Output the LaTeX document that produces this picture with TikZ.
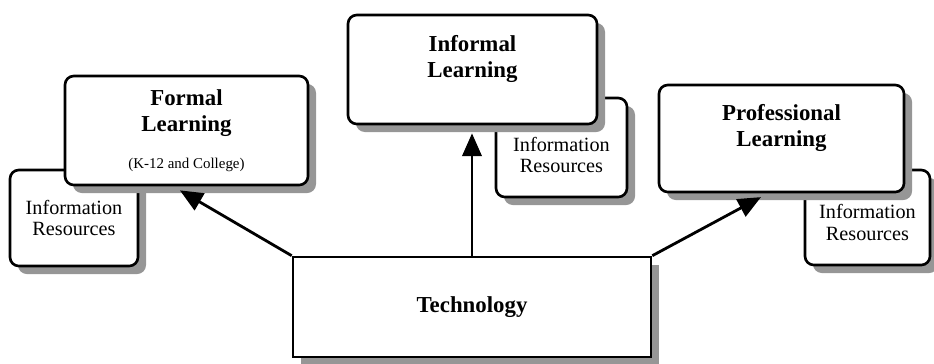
\documentclass[tikz,border=0pt]{standalone}
\usepackage{fontspec}
\setmainfont{Liberation Serif}
\usetikzlibrary{arrows.meta,shadows}
\definecolor{shadowgray}{RGB}{150,150,150}
\begin{document}
\begin{tikzpicture}[
    learnbox/.style={draw,fill=white,line width=1.5pt,rounded corners=5pt,
      minimum width=4.9cm,minimum height=2.16cm,align=center,
      font=\fontsize{13}{15}\selectfont\bfseries,
      drop shadow={shadow xshift=0.16cm,shadow yshift=-0.16cm,fill=shadowgray,opacity=1}},
    infobox/.style={learnbox,minimum width=2.56cm,minimum height=1.92cm},
    infotext/.style={align=center,font=\fontsize{11.5}{12}\selectfont},
    techbox/.style={learnbox,sharp corners,minimum width=7.16cm,minimum height=2cm},
    link/.style={line width=1.6pt,-{Triangle[length=13pt,width=11pt]},shorten >=0.16cm}]
    \useasboundingbox (0,0) rectangle (18.68,-7.26);
    % resources behind the learning boxes
    \node[infobox] (res1) at (1.48,-4.36) {};
    \node[infotext] (res1text) at (res1) {Information\\Resources};
    \node[infobox,minimum width=2.62cm,minimum height=1.98cm] (res2) at (11.23,-2.95) {};
    \node[infotext] (res2text) at ([yshift=-0.15cm]res2) {Information\\Resources};
    \node[infobox,minimum width=2.5cm,minimum height=1.9cm] (res3) at (17.35,-4.35) {};
    \node[infotext] (res3text) at ([yshift=-0.1cm]res3) {Information\\Resources};
    % learning boxes
    \node[learnbox,minimum width=4.86cm,minimum height=2.18cm] (formal) at (3.73,-2.61)
      {Formal\\Learning\\[6pt]{\fontsize{8.5}{10}\selectfont\mdseries (K-12 and College)}};
    \node[learnbox,minimum width=4.98cm,minimum height=2.18cm] (informal) at (9.45,-1.39) {Informal\\Learning\\\mbox{}};
    \node[learnbox,minimum height=2.14cm] (prof) at (15.63,-2.77) {Professional\\Learning\\\mbox{}};
    \node[techbox] (tech) at (9.44,-6.14) {Technology};
    \draw[link] (tech.north west) -- ([xshift=-0.27cm]formal.south);
    \draw[link] (tech.north) -- (tech.north |- informal.south);
    \draw[link] (tech.north east) -- ([xshift=-0.27cm]prof.south);
\end{tikzpicture}
\end{document}
